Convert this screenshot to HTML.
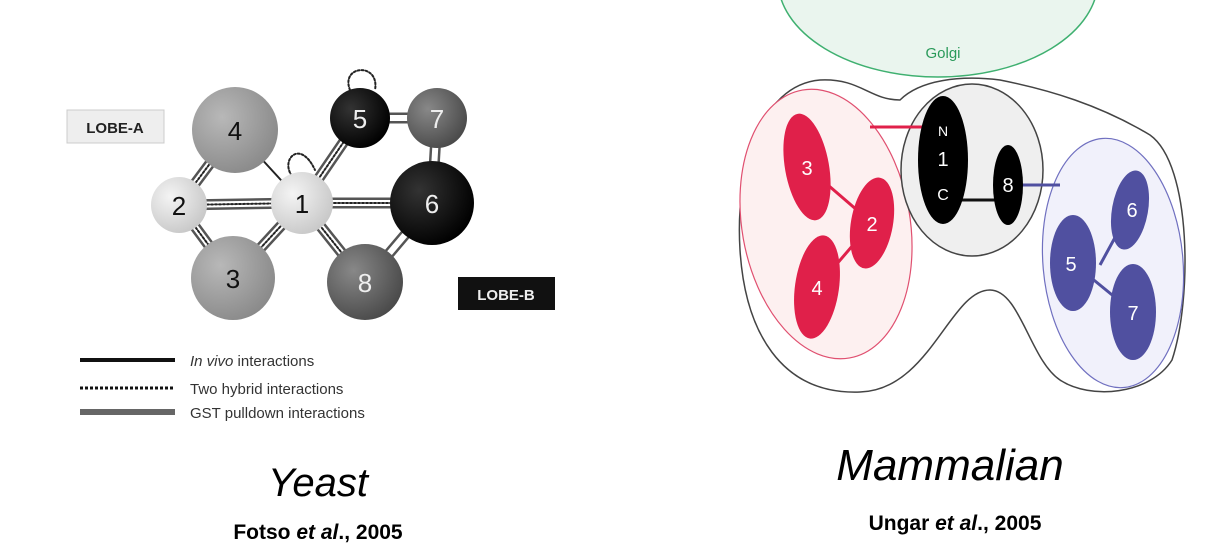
<!DOCTYPE html>
<html><head><meta charset="utf-8"><style>
body{margin:0;background:#fff;width:1227px;height:552px;overflow:hidden}
svg{display:block}
text{font-family:"Liberation Sans",sans-serif}
</style></head><body>
<svg width="1227" height="552" viewBox="0 0 1227 552">
<defs>
<radialGradient id="gL" cx="35%" cy="35%" r="70%"><stop offset="0" stop-color="#f4f4f4"/><stop offset="1" stop-color="#c8c8c8"/></radialGradient>
<radialGradient id="gM" cx="35%" cy="35%" r="70%"><stop offset="0" stop-color="#b8b8b8"/><stop offset="1" stop-color="#8a8a8a"/></radialGradient>
<radialGradient id="gD" cx="35%" cy="35%" r="70%"><stop offset="0" stop-color="#888"/><stop offset="1" stop-color="#4a4a4a"/></radialGradient>
<radialGradient id="gB" cx="35%" cy="35%" r="70%"><stop offset="0" stop-color="#333"/><stop offset="1" stop-color="#000"/></radialGradient>
</defs>
<g>
<g stroke-linecap="round">
<g stroke="#555" stroke-width="11"><line x1="179" y1="205" x2="302" y2="203"/><line x1="302" y1="203" x2="432" y2="203"/><line x1="179" y1="205" x2="235" y2="130"/><line x1="179" y1="205" x2="233" y2="278"/><line x1="302" y1="203" x2="233" y2="278"/><line x1="302" y1="203" x2="360" y2="118"/><line x1="302" y1="203" x2="365" y2="282"/><line x1="365" y1="282" x2="432" y2="203"/><line x1="360" y1="118" x2="437" y2="118"/><line x1="437" y1="118" x2="432" y2="203"/></g>
<g stroke="#fff" stroke-width="6"><line x1="179" y1="205" x2="302" y2="203"/><line x1="302" y1="203" x2="432" y2="203"/><line x1="179" y1="205" x2="235" y2="130"/><line x1="179" y1="205" x2="233" y2="278"/><line x1="302" y1="203" x2="233" y2="278"/><line x1="302" y1="203" x2="360" y2="118"/><line x1="302" y1="203" x2="365" y2="282"/><line x1="365" y1="282" x2="432" y2="203"/><line x1="360" y1="118" x2="437" y2="118"/><line x1="437" y1="118" x2="432" y2="203"/></g>
<g stroke="#222" stroke-width="2" stroke-dasharray="2 2"><line x1="179" y1="205" x2="302" y2="203"/><line x1="302" y1="203" x2="432" y2="203"/><line x1="179" y1="205" x2="235" y2="130"/><line x1="179" y1="205" x2="233" y2="278"/><line x1="302" y1="203" x2="233" y2="278"/><line x1="302" y1="203" x2="360" y2="118"/><line x1="302" y1="203" x2="365" y2="282"/></g>
<line x1="235" y1="130" x2="302" y2="203" stroke="#222" stroke-width="2"/>
<path d="M292 176 C280 160 300 138 315 170" fill="none" stroke="#222" stroke-width="2" stroke-dasharray="2 2"/>
<path d="M350 90 C340 65 380 62 375 90" fill="none" stroke="#222" stroke-width="2" stroke-dasharray="2 2"/>
</g>
<g font-size="26" text-anchor="middle">
<circle cx="235" cy="130" r="43" fill="url(#gM)"/><text x="235" y="140" fill="#111">4</text>
<circle cx="233" cy="278" r="42" fill="url(#gM)"/><text x="233" y="288" fill="#111">3</text>
<circle cx="179" cy="205" r="28" fill="url(#gL)"/><text x="179" y="215" fill="#111">2</text>
<circle cx="302" cy="203" r="31" fill="url(#gL)"/><text x="302" y="213" fill="#111">1</text>
<circle cx="360" cy="118" r="30" fill="url(#gB)"/><text x="360" y="128" fill="#eee">5</text>
<circle cx="437" cy="118" r="30" fill="url(#gD)"/><text x="437" y="128" fill="#eee">7</text>
<circle cx="432" cy="203" r="42" fill="url(#gB)"/><text x="432" y="213" fill="#eee">6</text>
<circle cx="365" cy="282" r="38" fill="url(#gD)"/><text x="365" y="292" fill="#eee">8</text>
</g>
<rect x="67" y="110" width="97" height="33" fill="#eee" stroke="#ccc"/>
<text x="115" y="133" font-size="15" font-weight="bold" text-anchor="middle" fill="#222">LOBE-A</text>
<rect x="458" y="277" width="97" height="33" fill="#111"/>
<text x="506" y="300" font-size="15" font-weight="bold" text-anchor="middle" fill="#eee">LOBE-B</text>
<g font-size="15" fill="#333">
<line x1="80" y1="360" x2="175" y2="360" stroke="#111" stroke-width="4"/><text x="190" y="366"><tspan font-style="italic">In vivo</tspan> interactions</text>
<line x1="80" y1="388" x2="175" y2="388" stroke="#111" stroke-width="3" stroke-dasharray="3 2"/><text x="190" y="394">Two hybrid interactions</text>
<line x1="80" y1="412" x2="175" y2="412" stroke="#666" stroke-width="6"/><text x="190" y="418">GST pulldown interactions</text>
</g>
</g>
<g>
<ellipse cx="938" cy="-20" rx="160" ry="97" fill="#eaf5ee" stroke="#3fb070" stroke-width="1.5"/>
<text x="943" y="58" font-size="15" fill="#2a9a5a" text-anchor="middle">Golgi</text>
<path d="M740 250 C735 170 760 85 820 80 C860 78 870 100 900 100 C920 80 960 75 1000 80 C1050 90 1100 105 1150 135 C1192 165 1192 300 1172 360 C1150 395 1090 400 1060 380 C1030 360 1020 290 990 290 C950 290 930 390 860 392 C780 395 745 330 740 250 Z" fill="#fff" stroke="#444" stroke-width="1.5"/>
<ellipse cx="826" cy="224" rx="84" ry="136" transform="rotate(-10 826 224)" fill="#fdf0f0" stroke="#e05070" stroke-width="1.2"/>
<ellipse cx="1113" cy="263" rx="70" ry="125" transform="rotate(-5 1113 263)" fill="#f1f1fb" stroke="#7070c0" stroke-width="1.2"/>
<ellipse cx="972" cy="170" rx="71" ry="86" fill="#efefef" stroke="#444" stroke-width="1.5"/>
<g stroke-width="3"><line x1="870" y1="127" x2="925" y2="127" stroke="#e0204a"/><line x1="1020" y1="185" x2="1060" y2="185" stroke="#5050a0"/><line x1="960" y1="200" x2="1000" y2="200" stroke="#111"/><line x1="807" y1="167" x2="872" y2="223" stroke="#e0204a"/><line x1="872" y1="223" x2="817" y2="287" stroke="#e0204a"/><line x1="1130" y1="210" x2="1100" y2="265" stroke="#5050a0"/><line x1="1073" y1="263" x2="1133" y2="312" stroke="#5050a0"/></g>
<g font-size="20" fill="#fff" text-anchor="middle">
<ellipse cx="807" cy="167" rx="22" ry="54" transform="rotate(-10 807 167)" fill="#e0204a"/><text x="807" y="175">3</text>
<ellipse cx="872" cy="223" rx="21" ry="46" transform="rotate(10 872 223)" fill="#e0204a"/><text x="872" y="231">2</text>
<ellipse cx="817" cy="287" rx="22" ry="52" transform="rotate(8 817 287)" fill="#e0204a"/><text x="817" y="295">4</text>
<ellipse cx="943" cy="160" rx="25" ry="64" fill="#000"/><text x="943" y="136" font-size="14">N</text><text x="943" y="166">1</text><text x="943" y="200" font-size="16">C</text>
<ellipse cx="1008" cy="185" rx="15" ry="40" fill="#000"/><text x="1008" y="192">8</text>
<ellipse cx="1130" cy="210" rx="18" ry="40" transform="rotate(10 1130 210)" fill="#5050a0"/><text x="1132" y="217">6</text>
<ellipse cx="1073" cy="263" rx="23" ry="48" fill="#5050a0"/><text x="1071" y="271">5</text>
<ellipse cx="1133" cy="312" rx="23" ry="48" fill="#5050a0"/><text x="1133" y="320">7</text>
</g>
</g>
<g text-anchor="middle" fill="#000">
<text x="318" y="496" font-size="40" font-style="italic">Yeast</text>
<text x="318" y="539" font-size="21" font-weight="bold">Fotso <tspan font-style="italic">et al</tspan>., 2005</text>
<text x="950" y="480" font-size="44" font-style="italic">Mammalian</text>
<text x="955" y="530" font-size="21" font-weight="bold">Ungar <tspan font-style="italic">et al</tspan>., 2005</text>
</g>
</svg>
</body></html>
